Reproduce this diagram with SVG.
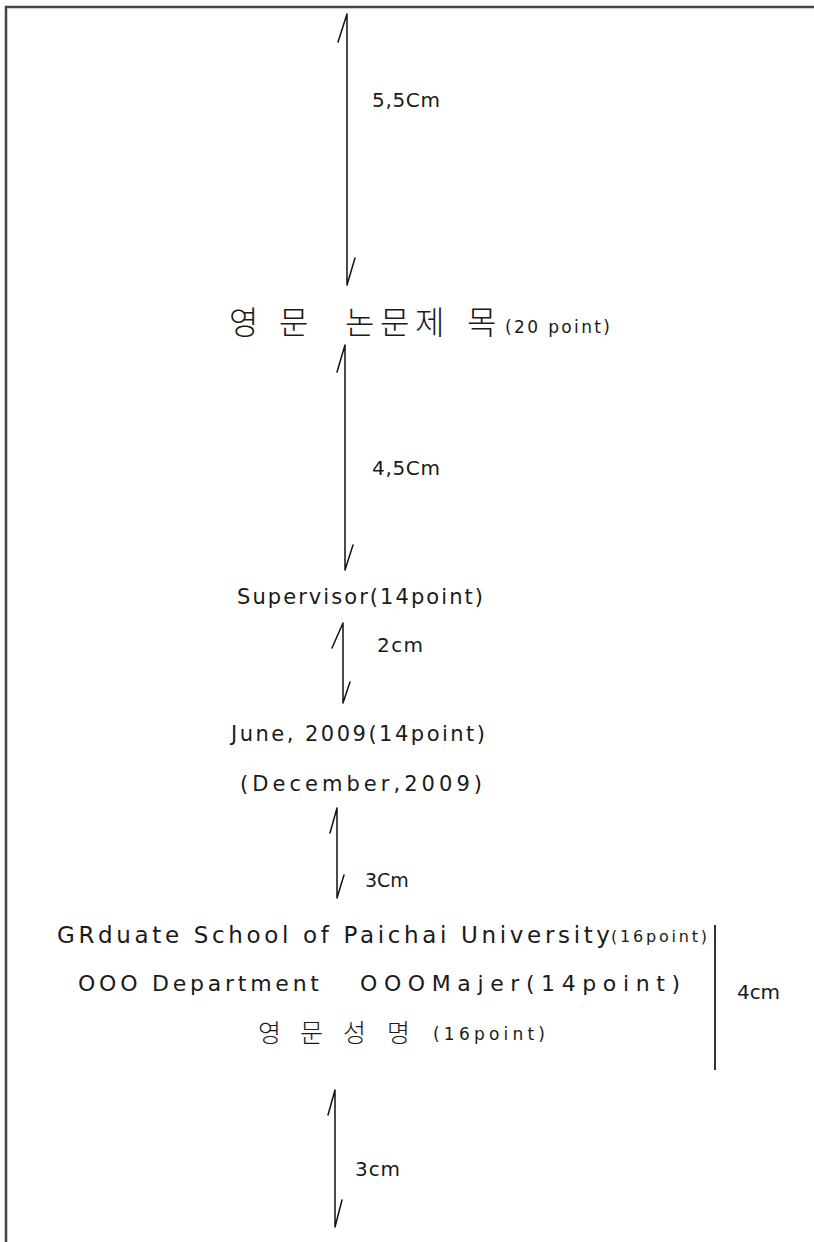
<svg xmlns="http://www.w3.org/2000/svg" width="814" height="1242" viewBox="0 0 814 1242">
<style>
.lat{font-family:"DejaVu Sans","Liberation Sans",sans-serif;fill:#1a1a1a;}
.kr{font-family:"Noto Sans CJK KR","Noto Sans",sans-serif;fill:#1a1a1a;font-weight:300;}
.ln{stroke:#111;stroke-width:1.5;fill:none;stroke-linecap:round;}
.bd{stroke:#444;stroke-width:2.5;fill:none;}
</style>
<rect x="0" y="0" width="814" height="1242" fill="#fff"/>
<g id="border">
<path class="bd" d="M6 1242 V7 H814"/>
</g>
<g id="connectors">
<path class="ln" d="M347 14 V285 M347 14 L338 42 M347 285 L355 258"/>
<path class="ln" d="M345 345 V570 M345 345 L337 372 M345 570 L353 545"/>
<path class="ln" d="M343 623 V703 M343 623 L332 648 M343 703 L350 682"/>
<path class="ln" d="M337 808 V898 M337 808 L330 833 M337 898 L344 875"/>
<path class="ln" d="M335 1090 V1227 M335 1090 L328 1115 M335 1227 L342 1200"/>
<path d="M715 925 V1070" stroke="#333" stroke-width="2" fill="none"/>
</g>
<g id="label-55cm"><text class="lat" x="372" y="107" font-size="20" textLength="68" lengthAdjust="spacing">5,5Cm</text></g>
<g id="title">
<text class="kr" y="334" font-size="32"><tspan x="229">영</tspan><tspan x="279">문</tspan><tspan x="345">논</tspan><tspan x="380">문</tspan><tspan x="415">제</tspan><tspan x="467">목</tspan></text>
<text class="lat" x="505" y="333" font-size="17" textLength="105" lengthAdjust="spacing">(20 point)</text>
</g>
<g id="label-45cm"><text class="lat" x="372" y="475" font-size="20" textLength="68" lengthAdjust="spacing">4,5Cm</text></g>
<g id="supervisor"><text class="lat" x="237" y="604" font-size="21" textLength="246" lengthAdjust="spacing">Supervisor(14point)</text></g>
<g id="label-2cm"><text class="lat" x="377" y="652" font-size="20" textLength="46" lengthAdjust="spacing">2cm</text></g>
<g id="date"><text class="lat" x="231" y="741" font-size="21" textLength="254" lengthAdjust="spacing">June, 2009(14point)</text></g>
<g id="date-alt"><text class="lat" x="240" y="791" font-size="21" textLength="242" lengthAdjust="spacing">(December,2009)</text></g>
<g id="label-3cm-a"><text class="lat" x="365" y="887" font-size="19">3Cm</text></g>
<g id="school">
<text class="lat" x="57" y="943" font-size="23" textLength="553" lengthAdjust="spacing">GRduate School of Paichai University</text>
<text class="lat" x="611" y="942" font-size="16" textLength="96" lengthAdjust="spacing">(16point)</text>
</g>
<g id="department">
<text class="lat" x="78" y="991" font-size="22" textLength="241" lengthAdjust="spacing">OOO Department</text>
<text class="lat" x="360" y="991" font-size="22" textLength="320" lengthAdjust="spacing">OOOMajer(14point)</text>
</g>
<g id="label-4cm"><text class="lat" x="737" y="999" font-size="20" textLength="43" lengthAdjust="spacing">4cm</text></g>
<g id="name">
<text class="kr" y="1042" font-size="25"><tspan x="258">영</tspan><tspan x="300">문</tspan><tspan x="343">성</tspan><tspan x="387">명</tspan></text>
<text class="lat" x="433" y="1040" font-size="17" textLength="112" lengthAdjust="spacing">(16point)</text>
</g>
<g id="label-3cm-b"><text class="lat" x="355" y="1176" font-size="20" textLength="45" lengthAdjust="spacing">3cm</text></g>
</svg>
